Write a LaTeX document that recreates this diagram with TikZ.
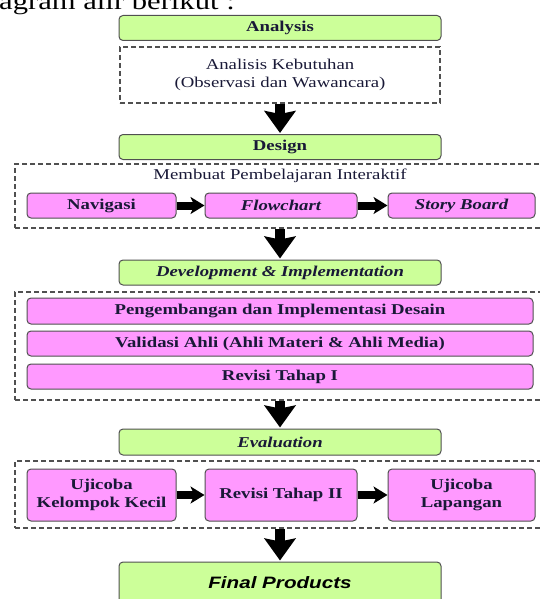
\documentclass[tikz,border=0pt]{standalone}
\usepackage{fontspec}
\setmainfont{Liberation Serif}[FakeStretch=1.25]
\newfontfamily\finalfont{Liberation Sans}[FakeStretch=1.25]
\usetikzlibrary{arrows.meta}
\definecolor{phasegreen}{RGB}{204,255,153}
\definecolor{taskpink}{RGB}{255,153,255}
\definecolor{edgegray}{RGB}{80,80,80}
\definecolor{inktext}{RGB}{25,25,55}

\begin{document}
\begin{tikzpicture}[x=1pt,y=-1pt]
      \tikzstyle{phase}=[rectangle,rounded corners=4pt,draw=edgegray,line width=1pt,fill=phasegreen,minimum width=322pt,minimum height=25pt,inner sep=0pt,text=inktext,font=\fontsize{15}{17.5}\selectfont\bfseries]
      \tikzstyle{task}=[phase,fill=taskpink,minimum width=149pt,align=center]
      \tikzstyle{group}=[rectangle,draw=edgegray,line width=1.2pt,dash pattern=on 5pt off 3pt,inner sep=0pt,align=center,text=inktext,font=\fontsize{15}{17.5}\selectfont]
      \tikzstyle{downarrow}=[line width=10pt,-{Stealth[width=31pt,length=22pt,inset=3pt]},shorten >=1pt]
      \tikzstyle{sidearrow}=[line width=8pt,-{Stealth[width=17pt,length=14pt,inset=4pt]}]
      \useasboundingbox (0,0) rectangle (539,599);
      % leftover line of the page above
      \node[anchor=base west,inner sep=0pt,font=\fontsize{24.5}{24.5}\selectfont] (intro) at (-1,10) {agram alir berikut :};
      % dashed groups
      \node[group,minimum width=320pt,minimum height=56pt] (dash1) at (280,75) {Analisis Kebutuhan\\(Observasi dan Wawancara)};
      \node[group,minimum width=530pt,minimum height=64pt] (dash2) at (280,196) {};
      \node[group,draw=none] (dash2title) at (280,176) {Membuat Pembelajaran Interaktif};
      \node[group,minimum width=530pt,minimum height=108pt] (dash3) at (280,346) {};
      \node[group,minimum width=530pt,minimum height=67pt] (dash4) at (280,494.5) {};
      % phases
      \node[phase] (analysis) at (280,28) {Analysis};
      \node[phase] (design) at (280,147) {Design};
      \node[phase] (dev) at (280,272.5) {\itshape Development \& Implementation};
      \node[phase,minimum height=26pt] (eval) at (280,442) {\itshape Evaluation};
      \node[phase,minimum height=42pt,text=black,font=\finalfont\fontsize{16.5}{19}\selectfont\bfseries\itshape] (final) at (280,583) {Final Products};
      % tasks
      \node[task] (nav) at (101.5,205.5) {Navigasi};
      \node[task,minimum width=152pt] (flow) at (281,205.5) {\itshape Flowchart};
      \node[task,minimum width=147pt] (story) at (461.5,205.5) {\itshape Story Board};
      \node[task,minimum width=506pt,minimum height=26pt] (impl) at (280,311) {Pengembangan dan Implementasi Desain};
      \node[task,minimum width=506pt] (valid) at (280,343.5) {Validasi Ahli (Ahli Materi \& Ahli Media)};
      \node[task,minimum width=506pt] (rev1) at (280,376.5) {Revisi Tahap I};
      \node[task,minimum height=52pt] (uji1) at (101.5,495) {Ujicoba\\Kelompok Kecil};
      \node[task,minimum width=152pt,minimum height=52pt] (rev2) at (281,495) {Revisi Tahap II};
      \node[task,minimum width=147pt,minimum height=52pt] (uji2) at (461.5,495) {Ujicoba\\Lapangan};
      % arrows
      \draw[downarrow] (dash1.south) -- (design.north);
      \draw[downarrow] (dash2.south) -- (dev.north);
      \draw[downarrow] (dash3.south) -- (eval.north);
      \draw[downarrow] (dash4.south) -- (final.north);
      \draw[sidearrow] (nav) -- (flow);
      \draw[sidearrow] (flow) -- (story);
      \draw[sidearrow] (uji1) -- (rev2);
      \draw[sidearrow] (rev2) -- (uji2);
\end{tikzpicture}
\end{document}
